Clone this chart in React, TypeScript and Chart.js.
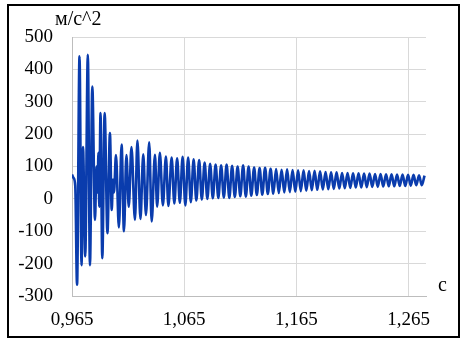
import { useEffect, useRef } from "react";
import { Chart, registerables } from "chart.js";

Chart.register(...registerables);

const times = [
  0.9650, 0.9663, 0.9679, 0.9695, 0.9717, 0.9735, 0.9748, 0.9768, 0.9791, 0.9810,
  0.9831, 0.9855, 0.9868, 0.9877, 0.9886, 0.9893, 0.9904, 0.9920, 0.9941, 0.9966,
  0.9988, 1.0004, 1.0015, 1.0024, 1.0042, 1.0068, 1.0092, 1.0113, 1.0135, 1.0156,
  1.0180, 1.0211, 1.0233, 1.0260, 1.0285, 1.0309, 1.0338, 1.0360, 1.0389, 1.0409,
  1.0433, 1.0460, 1.0487, 1.0509, 1.0538, 1.0562,
  1.0587, 1.0611, 1.0636, 1.0660, 1.0685, 1.0709, 1.0734, 1.0758, 1.0783, 1.0807,
  1.0832, 1.0856, 1.0881, 1.0905, 1.0930, 1.0954, 1.0979, 1.1003, 1.1028, 1.1052,
  1.1077, 1.1101, 1.1126, 1.1150, 1.1175, 1.1199, 1.1224, 1.1248, 1.1273, 1.1297,
  1.1322, 1.1346, 1.1371, 1.1395, 1.1420, 1.1444, 1.1469, 1.1493, 1.1518, 1.1542,
  1.1567, 1.1591, 1.1616, 1.1640, 1.1665, 1.1689, 1.1714, 1.1738, 1.1763, 1.1787,
  1.1812, 1.1836, 1.1861, 1.1885, 1.1910, 1.1934, 1.1959, 1.1983, 1.2008, 1.2032,
  1.2057, 1.2081, 1.2106, 1.2130, 1.2155, 1.2179, 1.2204, 1.2228, 1.2253, 1.2277,
  1.2302, 1.2326, 1.2351, 1.2375, 1.2400, 1.2424, 1.2449, 1.2473, 1.2498, 1.2522,
  1.2547, 1.2571, 1.2596, 1.2620, 1.2645, 1.2669, 1.2694, 1.2718, 1.2743, 1.2767,
  1.2792,
];

const accel = [
  75, 65, 40, -265, 440, -205, 160, -178, 445, -205,
  347, -65, 100, 20, 142, -24, 265, -183, 265, -106,
  203, -34, 60, 20, 135, -88, 168, -100, 135, -24,
  160, -65, 180, -62, 138, -50, 175, -70, 136, -24,
  142, -20, 131, -22, 128, -14,
  125, -12, 130, -20, 128, -10, 122, -5, 120, -2,
  112, 0, 108, 2, 106, 3, 104, 4, 106, 3,
  102, 6, 100, 8, 104, 7, 100, 10, 97, 12,
  95, 13, 96, 15, 93, 16, 92, 18, 90, 20,
  91, 21, 89, 22, 88, 24, 88, 25, 86, 27,
  87, 28, 85, 29, 83, 30, 82, 31, 82, 32,
  80, 33, 80, 34, 79, 35, 79, 35, 78, 36,
  78, 37, 77, 37, 77, 38, 76, 39, 76, 39,
  75, 40, 75, 40, 74, 41, 74, 42, 73, 42,
  72,
];

const xTicks = [0.965, 1.065, 1.165, 1.265];
const yUnit = "м/с^2";
const xUnit = "с";

export default function App() {
  const ref = useRef<HTMLCanvasElement>(null);

  useEffect(() => {
    if (!ref.current) return;
    const points = times.map((t, i) => ({ x: t, y: accel[i] }));
    const font = { family: '"Liberation Serif", "Times New Roman", serif', size: 19 };

    const unitsPlugin = {
      id: "units",
      afterDraw(chart: any) {
        const ctx = chart.ctx;
        ctx.save();
        ctx.font = '20px "Liberation Serif", "Times New Roman", serif';
        ctx.fillStyle = "#000";
        ctx.textBaseline = "middle";
        ctx.textAlign = "left";
        ctx.fillText(yUnit, 55, 20);
        ctx.fillText(xUnit, 438, 286);
        ctx.restore();
      },
    };

    const chart = new Chart(ref.current, {
      type: "line",
      data: {
        datasets: [
          {
            data: points,
            borderColor: "#0a3cad",
            borderWidth: 2.6,
            pointRadius: 0,
            cubicInterpolationMode: "monotone",
            fill: false,
          },
        ],
      },
      options: {
        animation: false,
        responsive: false,
        maintainAspectRatio: false,
        layout: { padding: { left: 0, right: 41, top: 37, bottom: 0 } },
        plugins: { legend: { display: false }, tooltip: { enabled: false } },
        scales: {
          x: {
            type: "linear",
            min: 0.965,
            max: 1.2805,
            afterBuildTicks: (s: any) => {
              s.ticks = xTicks.map((v) => ({ value: v }));
            },
            afterFit: (s: any) => {
              s.height = 44;
            },
            grid: { color: "#d9d9d9", drawTicks: false, lineWidth: 1 },
            border: { color: "#bdbdbd", width: 1 },
            ticks: {
              padding: 13,
              font,
              color: "#000",
              maxRotation: 0,
              autoSkip: false,
              callback: (v: any) => Number(v).toFixed(3).replace(".", ","),
            },
          },
          y: {
            type: "linear",
            min: -300,
            max: 500,
            afterFit: (s: any) => {
              s.width = 72;
            },
            grid: { color: "#d9d9d9", drawTicks: false, lineWidth: 1 },
            border: { color: "#bdbdbd", width: 1 },
            ticks: {
              stepSize: 100,
              padding: 19,
              font,
              color: "#000",
              callback: (v: any) => String(v),
            },
          },
        },
      },
      plugins: [unitsPlugin],
    });
    return () => chart.destroy();
  }, []);

  return (
    <div style={{ position: "fixed", left: 0, top: 0, width: 467, height: 340, background: "#fff" }}>
      <canvas
        ref={ref}
        width={467}
        height={340}
        style={{ position: "absolute", left: 0, top: 0, width: 467, height: 340 }}
      />
      <div
        style={{
          position: "absolute",
          left: 7,
          top: 4,
          width: 453,
          height: 334,
          border: "2px solid #000",
          boxSizing: "border-box",
          pointerEvents: "none",
        }}
      />
    </div>
  );
}
